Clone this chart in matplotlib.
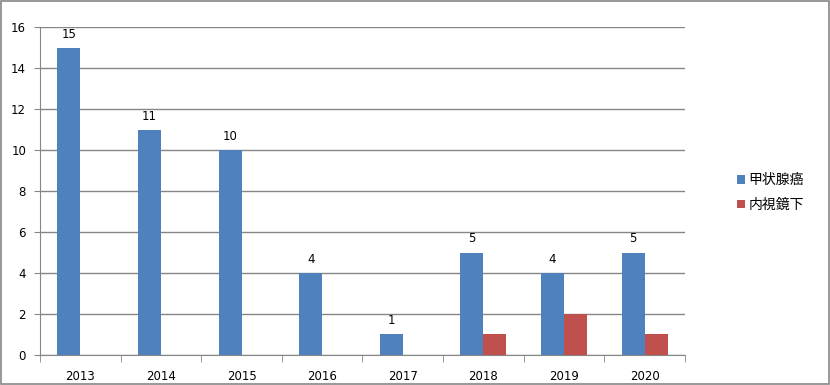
import numpy as np
import matplotlib
matplotlib.use('Agg')
import matplotlib.pyplot as plt
from matplotlib.patches import Rectangle

plt.rcParams['font.family'] = ['DejaVu Sans', 'Noto Sans CJK JP']

years = ['2013', '2014', '2015', '2016', '2017', '2018', '2019', '2020']
thyroid = [15, 11, 10, 4, 1, 5, 4, 5]
endoscopic = [0, 0, 0, 0, 0, 1, 2, 1]
series_names = ['甲状腺癌', '内視鏡下']

blue = '#4F81BD'
red = '#C0504D'
grid_c = '#868686'

fig = plt.figure(figsize=(8.30, 3.85), dpi=100)
ax = fig.add_axes([0.0482, 0.078, 0.777, 0.851])

x = np.arange(len(years))
w = 1 / 3.5
b1 = ax.bar(x - w / 2, thyroid, w, color=blue, label=series_names[0], zorder=3)
b2 = ax.bar(x + w / 2, endoscopic, w, color=red, label=series_names[1], zorder=3)

for rect, v in zip(b1, thyroid):
    ax.text(rect.get_x() + rect.get_width() / 2, v + 0.35, str(v),
            ha='center', va='bottom', fontsize=8.5, color='black')

ax.set_xlim(-0.5, len(years) - 0.5)
ax.set_ylim(0, 16)
ax.set_yticks(range(0, 17, 2))
ax.yaxis.grid(True, color=grid_c, linewidth=1, zorder=0)
ax.set_xticks(x)
ax.set_xticklabels(years, fontsize=8.5)
ax.set_xticks(np.arange(-0.5, len(years)), minor=True)
ax.tick_params(axis='x', which='major', length=0, pad=11)
ax.tick_params(axis='x', which='minor', length=5, color=grid_c)
ax.tick_params(axis='y', length=4, color=grid_c, labelsize=8.5, pad=6)

for s in ['top', 'right']:
    ax.spines[s].set_visible(False)
for s in ['left', 'bottom']:
    ax.spines[s].set_color(grid_c)

leg = fig.legend(handles=[b1, b2], labels=series_names, loc='center left',
                 bbox_to_anchor=(0.873, 0.50), frameon=False,
                 prop={'family': ['Noto Sans CJK JP', 'DejaVu Sans'], 'size': 10},
                 handlelength=0.55, handleheight=0.55, handletextpad=0.25,
                 labelspacing=0.75)

fig.patches.append(Rectangle((0.001, 0.002), 0.998, 0.996, transform=fig.transFigure,
                             fill=False, edgecolor=grid_c, linewidth=1.2))

fig.savefig('out.png', dpi=100)
